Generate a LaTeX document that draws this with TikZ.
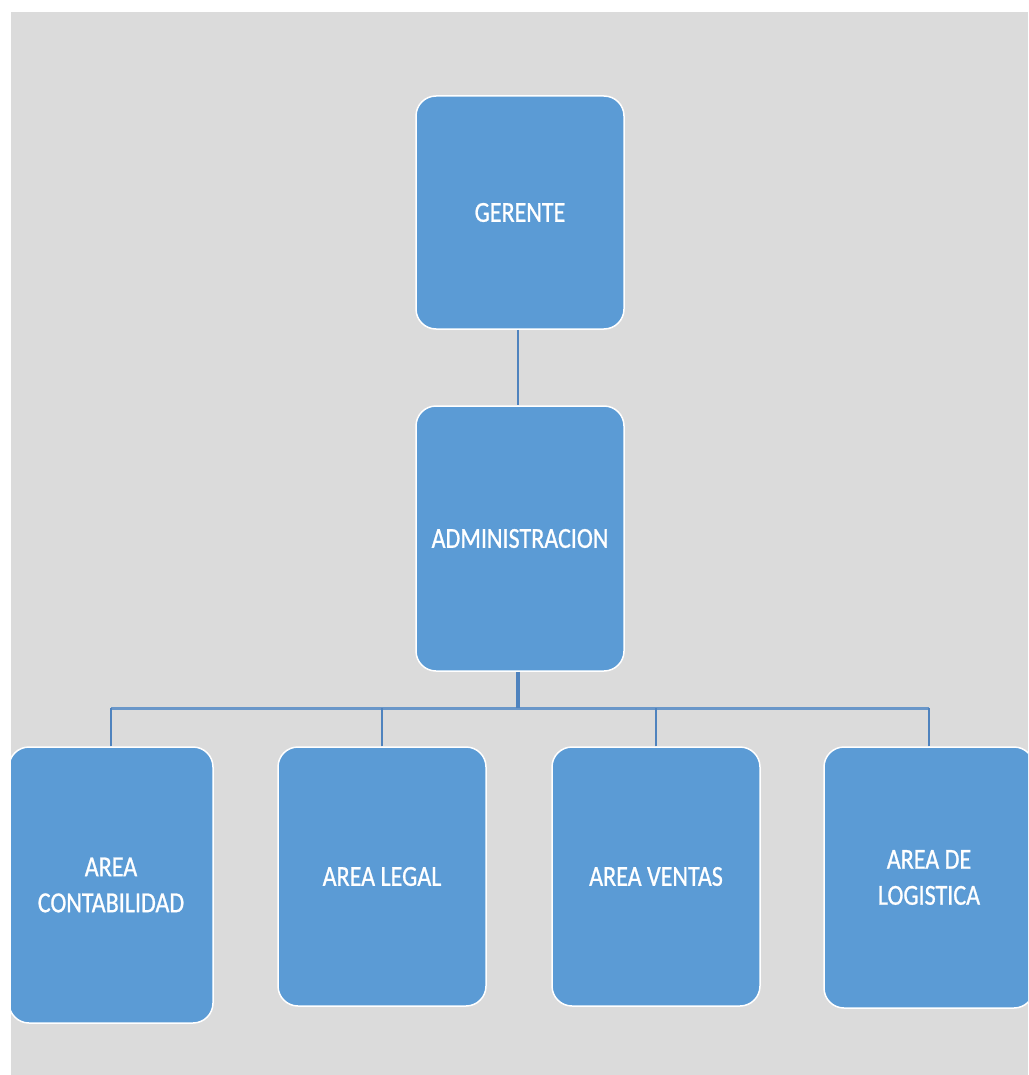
\documentclass[tikz,border=0pt]{standalone}
\usepackage{fontspec}
\setmainfont{Carlito}[FakeStretch=0.83,FakeBold=0.8]
\definecolor{bg}{HTML}{DBDBDB}
\definecolor{boxfill}{HTML}{5B9BD5}
\definecolor{linecol}{HTML}{4F83BE}
\definecolor{barcol}{HTML}{6A97C9}
\begin{document}
\begin{tikzpicture}[x=1pt,y=-1pt,
  orgbox/.style={rectangle, rounded corners=20pt, fill=boxfill, draw=white, line width=1.5pt,
    text=white, align=center, inner sep=0pt, font=\fontsize{29}{36}\selectfont},
  conn/.style={draw=linecol, line width=2.5pt},
  drop/.style={draw=linecol, line width=2pt},
  barline/.style={draw=barcol, line width=3pt}]
\useasboundingbox (0,0) rectangle (1028,1075);
\fill[bg] (11,12) rectangle (1028,1075);
\begin{scope}
\clip (11,12) rectangle (1028,1075);
\node[orgbox, minimum width=208pt, minimum height=233pt] (ger) at (520,212.5) {GERENTE};
\node[orgbox, minimum width=208pt, minimum height=265pt] (adm) at (520,538.5) {ADMINISTRACION};
\node[orgbox, minimum width=204pt, minimum height=276pt] (c1) at (111,885) {AREA\\CONTABILIDAD};
\node[orgbox, minimum width=208pt, minimum height=259pt] (c2) at (382,876.5) {AREA LEGAL};
\node[orgbox, minimum width=208pt, minimum height=259pt] (c3) at (656,876.5) {AREA VENTAS};
\node[orgbox, minimum width=210pt, minimum height=261pt] (c4) at (929,877.5) {AREA DE\\LOGISTICA};
\end{scope}
\coordinate (bar) at (518,708);
\coordinate (barL) at (111,708);
\coordinate (barR) at (929,708);
\draw[conn] ([xshift=-2pt]ger.south) -- ([xshift=-2pt]adm.north);
\draw[barline] (barL) -- (barR);
\draw[conn, line width=3.5pt] ([xshift=-2pt]adm.south) -- (bar);
\draw[drop] (c1.north) -- (barL);
\draw[drop] (c2.north) -- (c2.north |- bar);
\draw[drop] (c3.north) -- (c3.north |- bar);
\draw[drop] (c4.north) -- (barR);
\end{tikzpicture}
\end{document}
